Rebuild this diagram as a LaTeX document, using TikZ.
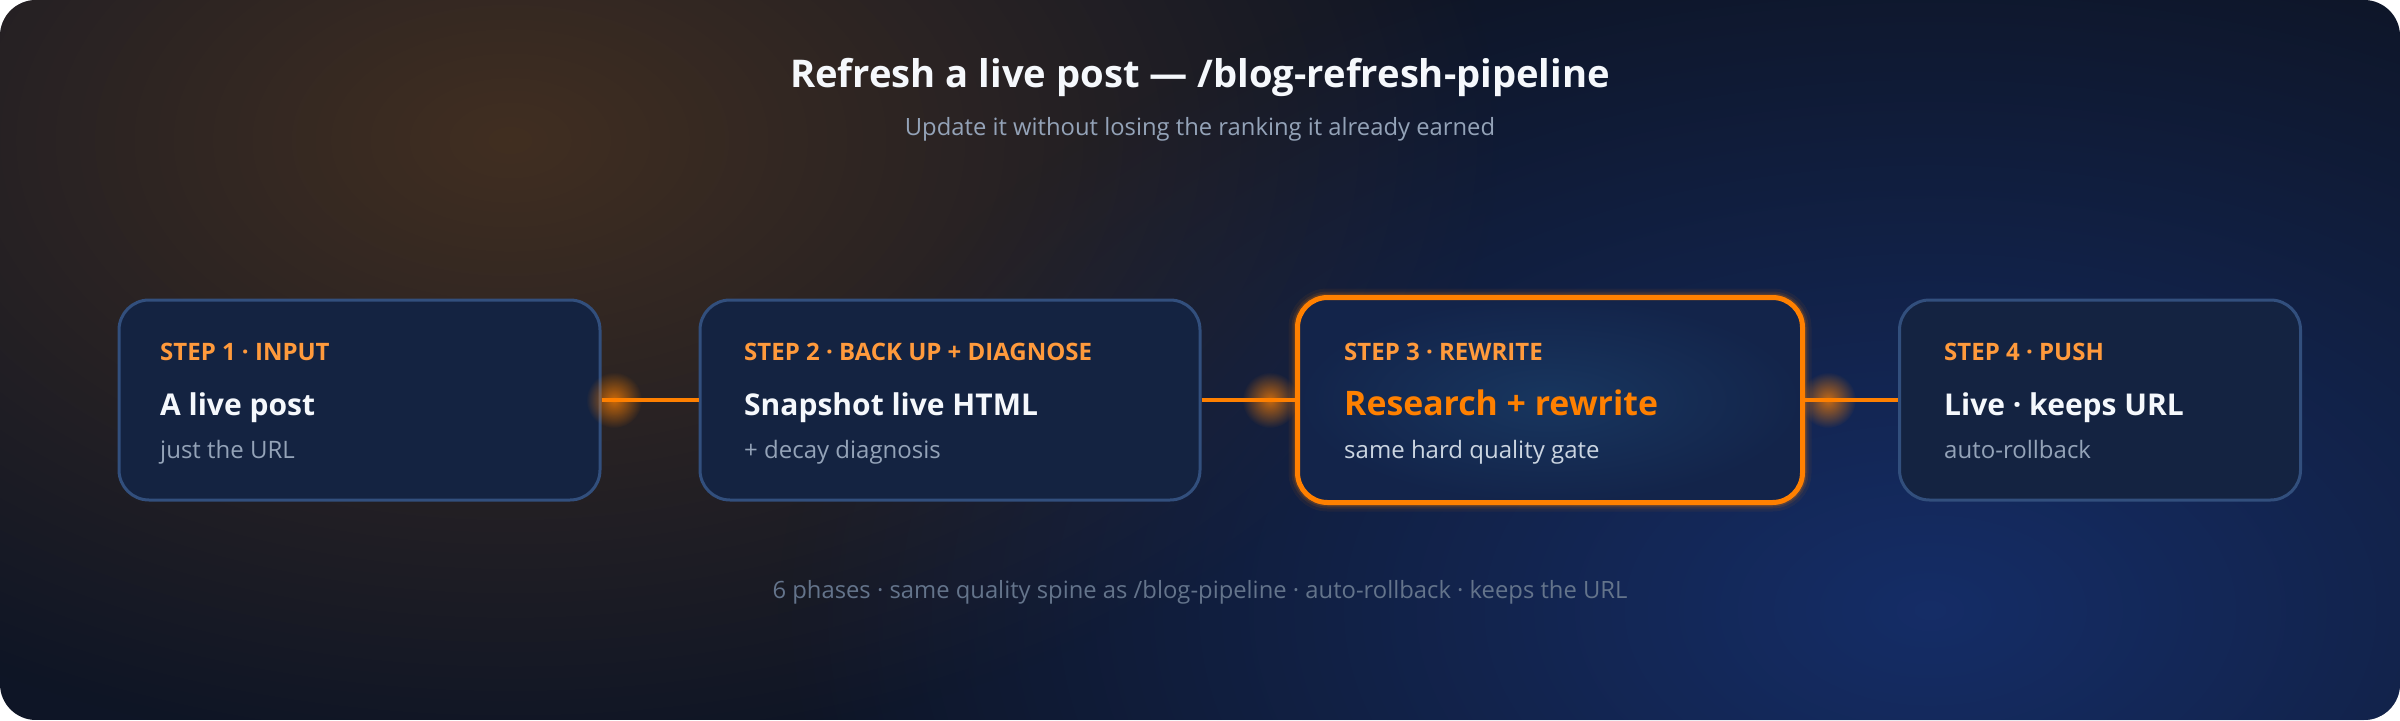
\documentclass[tikz,border=0pt]{standalone}
\usepackage{fontspec}
\setmainfont{Open Sans}
\usetikzlibrary{fadings}
\definecolor{bgbase}{HTML}{0E1526}
\definecolor{warmglow}{HTML}{4A3320}
\definecolor{blueglow}{HTML}{16306E}
\definecolor{boxfill}{HTML}{142341}
\definecolor{boxedge}{HTML}{324F7D}
\definecolor{hotin}{HTML}{18365F}
\definecolor{hotout}{HTML}{13244A}
\definecolor{hot}{HTML}{FF8000}
\definecolor{lblcol}{HTML}{FF9A3C}
\definecolor{titlecol}{HTML}{F5F8FC}
\definecolor{subcol}{HTML}{94A3B8}
\definecolor{subhot}{HTML}{CBD5E1}
\definecolor{footcol}{HTML}{64748B}
\tikzfading[name=glowfade, inner color=transparent!0, outer color=transparent!100]
\tikzset{
  stepbox/.style={draw=boxedge, line width=3, fill=boxfill, rounded corners=30, minimum height=200, inner sep=0},
  hotbox/.style={draw=hot, line width=5, rounded corners=30, minimum height=200, inner sep=0},
  lbl/.style={anchor=base west, text=lblcol, inner sep=0, font=\fontsize{24}{28}\selectfont\bfseries},
  ttl/.style={anchor=base west, text=titlecol, inner sep=0, font=\fontsize{30}{36}\selectfont\bfseries},
  sub/.style={anchor=base west, text=subcol, inner sep=0, font=\fontsize{24}{28}\selectfont},
  conn/.style={draw=hot, line width=4},
  dot/.style={fill=hot, path fading=glowfade},
}
\begin{document}
\begin{tikzpicture}[x=1pt,y=-1pt]
\useasboundingbox (0,0) rectangle (2400,720);
\fill[white] (0,0) rectangle (2400,720);
\begin{scope}
  \clip[rounded corners=36] (0,0) rectangle (2400,720);
  \fill[bgbase] (0,0) rectangle (2400,720);
  \fill[warmglow, path fading=glowfade, opacity=0.85] (510,140) ellipse [x radius=1000, y radius=620];
  \fill[blueglow, path fading=glowfade, opacity=0.9] (1930,610) ellipse [x radius=1150, y radius=700];
\end{scope}

% title
\node[anchor=base, text=titlecol, inner sep=0, font=\fontsize{38.2}{46}\selectfont\bfseries] (title) at (1200,87) {Refresh a live post — /blog-refresh-pipeline};
\node[anchor=base, text=subcol, inner sep=0, font=\fontsize{23.8}{28}\selectfont] (subtitle) at (1200,135) {Update it without losing the ranking it already earned};

% boxes
\node[stepbox, minimum width=481] (b1) at (359.5,400) {};
\node[stepbox, minimum width=500] (b2) at (950,400) {};
\node[hotbox, minimum width=500] (b3) at (1550,400) {};
\node[stepbox, minimum width=401] (b4) at (2100,400) {};

% glow of box 3
\draw[hot, line width=18, opacity=0.06, rounded corners=30] (b3.north west) rectangle (b3.south east);
\draw[hot, line width=12, opacity=0.10, rounded corners=30] (b3.north west) rectangle (b3.south east);
\draw[hot, line width=8, opacity=0.18, rounded corners=30] (b3.north west) rectangle (b3.south east);
\shade[inner color=hotin, outer color=hotout, rounded corners=30] (b3.north west) rectangle (b3.south east);
\draw[hot, line width=5, rounded corners=30] (b3.north west) rectangle (b3.south east);

% connectors
\draw[conn] (b1.east) -- (b2.west);
\draw[conn] (b2.east) -- (b3.west);
\draw[conn] (b3.east) -- (b4.west);
\coordinate (g1) at (614,400);
\coordinate (g2) at (1270,400);
\coordinate (g3) at (1828,400);
\fill[dot, opacity=0.75] (g1) circle (28);
\fill[dot, opacity=0.75] (g2) circle (28);
\fill[dot, opacity=0.75] (g3) circle (28);

% box texts
\node[lbl] (l1) at (160,360) {STEP 1 · INPUT};
\node[ttl] (t1) at (160,415) {A live post};
\node[sub] (s1) at (160,458) {just the URL};

\node[lbl] (l2) at (744,360) {STEP 2 · BACK UP + DIAGNOSE};
\node[ttl] (t2) at (744,415) {Snapshot live HTML};
\node[sub] (s2) at (744,458) {+ decay diagnosis};

\node[lbl] (l3) at (1344,360) {STEP 3 · REWRITE};
\node[ttl, text=hot, font=\fontsize{33.8}{40}\selectfont\bfseries] (t3) at (1344,415) {Research + rewrite};
\node[sub, text=subhot] (s3) at (1344,458) {same hard quality gate};

\node[lbl] (l4) at (1944,360) {STEP 4 · PUSH};
\node[ttl] (t4) at (1944,415) {Live · keeps URL};
\node[sub] (s4) at (1944,458) {auto-rollback};

% footer
\node[anchor=base, text=footcol, inner sep=0, font=\fontsize{23.8}{28}\selectfont] (foot) at (1200,598) {6 phases · same quality spine as /blog-pipeline · auto-rollback · keeps the URL};
\end{tikzpicture}
\end{document}
